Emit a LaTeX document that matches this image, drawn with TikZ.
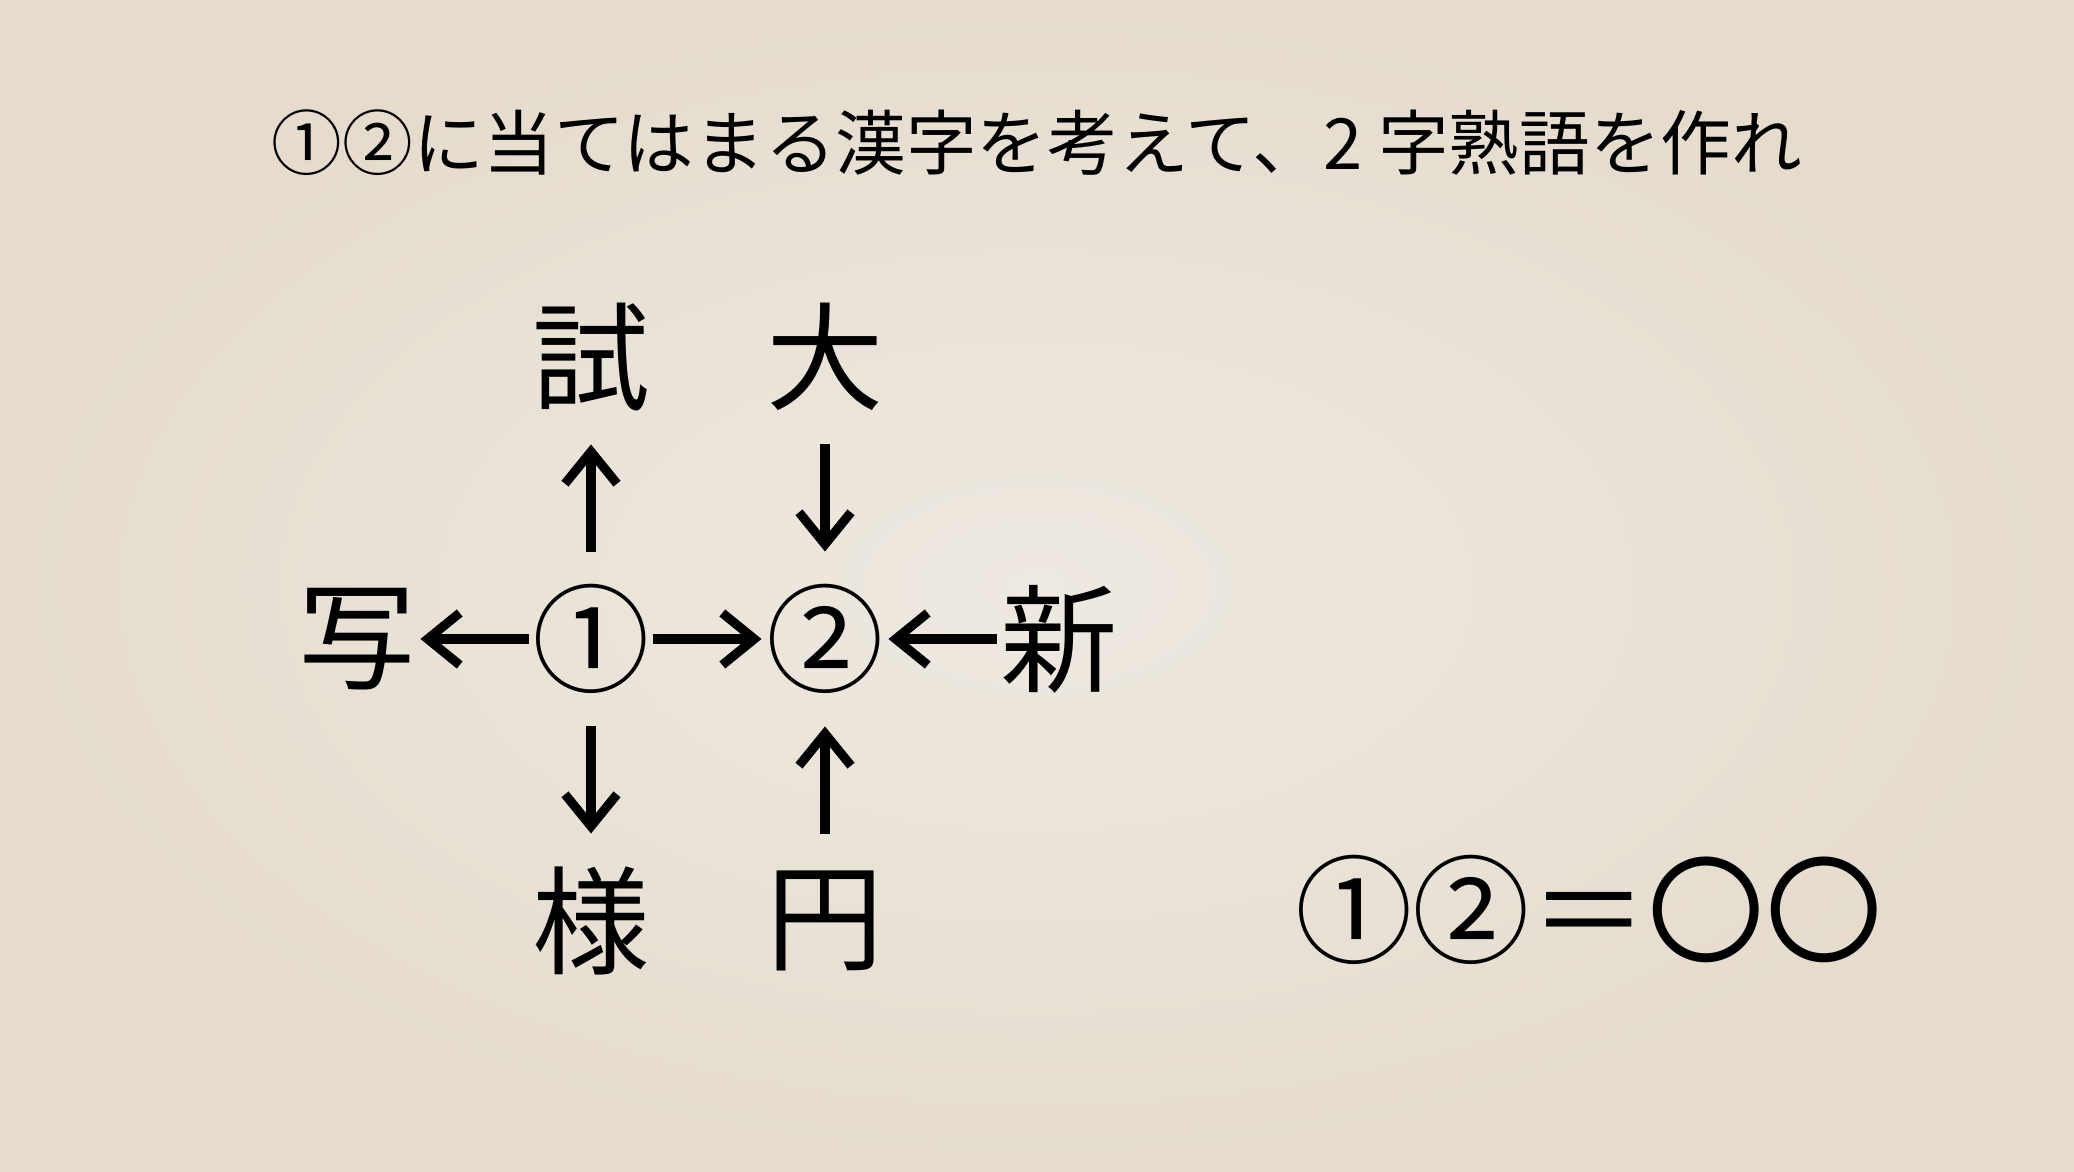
\documentclass[tikz,border=0pt]{standalone}
\usepackage{fontspec}
\usepackage{xcolor}
\usepackage{tikz}
\usetikzlibrary{arrows.meta,calc}
\newfontfamily\jp{Noto Sans CJK JP}
\definecolor{paper}{RGB}{238,233,225}
\definecolor{paperedge}{RGB}{229,220,206}
\tikzset{
  kanji/.style={font=\jp\fontsize{33.4pt}{40pt}\selectfont, inner sep=0pt,
    minimum width=1.175cm, minimum height=1.175cm},
  harrow/.style={line width=2.6pt, -{Straight Barb[length=3.2mm,width=5.2mm]},
    shorten <=0.03cm, shorten >=0.04cm},
  varrow/.style={harrow, shorten <=0.28cm, shorten >=0.28cm}
}

\begin{document}
\begin{tikzpicture}
  % page 2074 x 1172 px -> 20.74 x 11.72 cm
  \useasboundingbox (0,0) rectangle (20.74,11.72);
  \shade[inner color=paper, outer color=paperedge] (0,0) rectangle (20.74,11.72);
  % question
  \node[font=\jp\fontsize{20.1pt}{24pt}\selectfont] (title) at (10.37,10.29)
    {①②に当てはまる漢字を考えて、2 字熟語を作れ};
  % grid: columns 2.34cm apart, rows 2.82cm apart
  \def\cx{5.91}
  \def\dx{2.34}
  \def\ry{5.33}
  \def\dy{2.82}
  \node[kanji] (one)  at (\cx,\ry) {①};
  \node[kanji] (two)  at (\cx+\dx,\ry) {②};
  \node[kanji] (sha)  at (\cx-\dx,\ry) {写};
  \node[kanji] (shin) at (\cx+2*\dx,\ry) {新};
  \node[kanji] (shi)  at (\cx,\ry+\dy) {試};
  \node[kanji] (dai)  at (\cx+\dx,\ry+\dy) {大};
  \node[kanji] (you)  at (\cx,\ry-\dy) {様};
  \node[kanji] (en)   at (\cx+\dx,\ry-\dy) {円};
  % arrows
  \draw[harrow] (one) -- (sha);
  \draw[harrow] (one) -- (two);
  \draw[harrow] (shin) -- (two);
  \draw[varrow] (one) -- (shi);
  \draw[varrow] (one) -- (you);
  \draw[varrow] (dai) -- (two);
  \draw[varrow] (en) -- (two);
  % answer line
  \node[font=\jp\fontsize{33.4pt}{40pt}\selectfont, inner sep=0pt] (ans) at (15.89,2.62)
    {①②＝〇〇};
\end{tikzpicture}
\end{document}
